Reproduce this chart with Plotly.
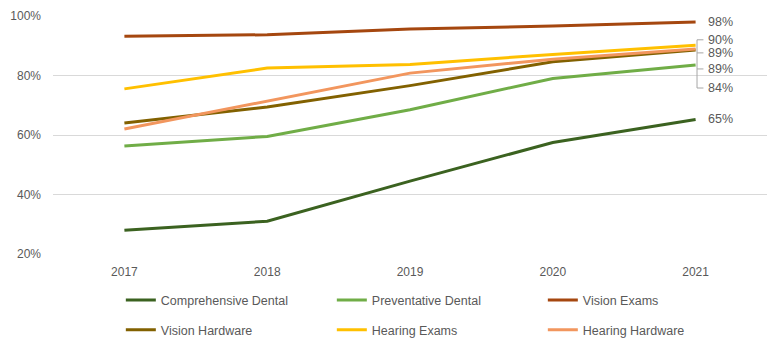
import plotly.graph_objects as go

years = ["2017", "2018", "2019", "2020", "2021"]
series_names = ["Comprehensive Dental", "Preventative Dental", "Vision Exams",
                "Vision Hardware", "Hearing Exams", "Hearing Hardware"]
comprehensive_dental = [28.0, 31.0, 44.5, 57.5, 65.2]
preventative_dental = [56.3, 59.5, 68.5, 79.0, 83.5]
vision_exams = [93.2, 93.7, 95.6, 96.6, 98.0]
vision_hardware = [64.0, 69.4, 76.6, 84.6, 88.6]
hearing_exams = [75.5, 82.5, 83.7, 87.1, 90.2]
hearing_hardware = [62.0, 71.3, 80.8, 85.5, 88.9]
end_labels = ["98%", "90%", "89%", "89%", "84%", "65%"]
label_pos = [97.9, 92.0, 87.6, 82.2, 75.8, 65.3]

colors = ["#3B6220", "#70AD47", "#A5470F", "#826100", "#FFC000", "#F2965E"]
values = [comprehensive_dental, preventative_dental, vision_exams,
          vision_hardware, hearing_exams, hearing_hardware]

FONT = "Liberation Sans"
GREY = "#595959"

fig = go.Figure()
for i, (name, vals, col) in enumerate(zip(series_names, values, colors)):
    fig.add_trace(go.Scatter(
        x=years, y=vals, name=name, mode="lines",
        line=dict(color=col, width=3),
        legend="legend" if i < 3 else "legend2",
    ))

# data labels
for txt, pos in zip(end_labels, label_pos):
    fig.add_annotation(x=4.075, y=pos, xref="x", yref="y", text=txt,
                       showarrow=False, xanchor="left", yanchor="middle",
                       font=dict(family=FONT, size=12.5, color=GREY))

# leader bracket
bx = 4.01
fig.add_shape(type="line", xref="x", yref="y", x0=bx, x1=bx,
              y0=label_pos[1], y1=label_pos[4],
              line=dict(color="#A6A6A6", width=1))
for pos in label_pos[1:5]:
    fig.add_shape(type="line", xref="x", yref="y", x0=bx, x1=bx + 0.045,
                  y0=pos, y1=pos, line=dict(color="#A6A6A6", width=1))

legend_common = dict(orientation="h", entrywidth=166, entrywidthmode="pixels",
                     font=dict(family=FONT, size=12.5, color=GREY),
                     bgcolor="rgba(0,0,0,0)", itemclick=False,
                     xanchor="left", yanchor="middle", tracegroupgap=0)

fig.update_layout(
    width=772, height=354,
    margin=dict(l=53, r=5, t=16, b=100),
    paper_bgcolor="white", plot_bgcolor="white",
    font=dict(family=FONT, size=12, color=GREY),
    showlegend=True,
    legend=dict(x=0.095, y=-0.195, **legend_common),
    legend2=dict(x=0.095, y=-0.32, **legend_common),
    xaxis=dict(type="category", showgrid=False, zeroline=False,
               showline=False, ticks="", tickfont=dict(size=12, color=GREY),
               ticklabelstandoff=9, range=[-0.5, 4.5]),
    yaxis=dict(range=[20, 100], dtick=20, ticksuffix="%",
               showgrid=True, gridcolor="#D9D9D9", gridwidth=1,
               zeroline=False, showline=False, ticks="",
               tickfont=dict(size=12, color=GREY), ticklabelstandoff=11),
)

fig.write_html("out.html")
